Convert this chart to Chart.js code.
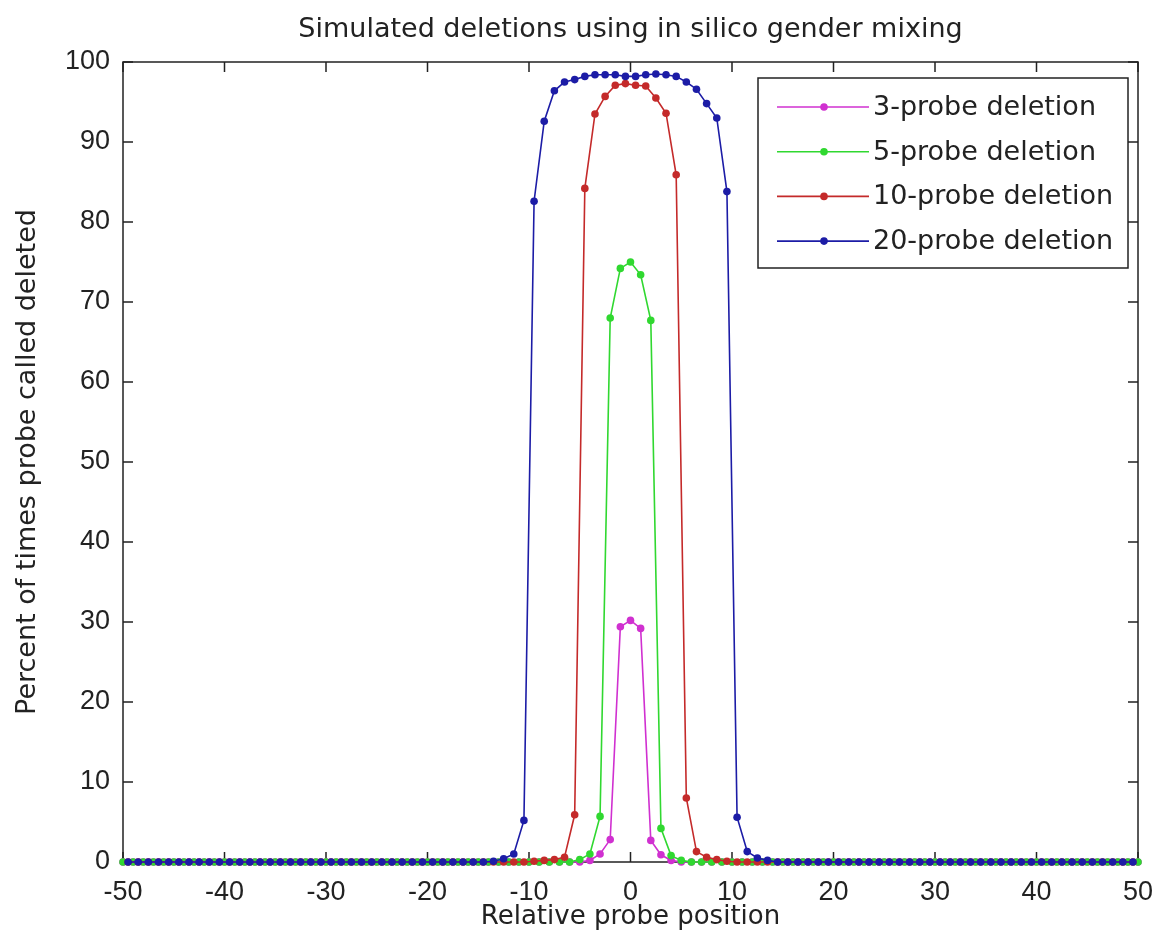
<!DOCTYPE html>
<html>
<head>
<meta charset="utf-8">
<title>Simulated deletions using in silico gender mixing</title>
<script src="https://cdn.jsdelivr.net/npm/chart.js@4.4.1/dist/chart.umd.min.js"></script>
<style>
  html, body { margin: 0; padding: 0; background: #ffffff; }
  #wrap { width: 1155px; height: 945px; }
</style>
</head>
<body>
<div id="wrap"><canvas id="chart" width="1155" height="945"></canvas></div>
<script>
// Probe positions relative to the deletion centre.
// Odd-length deletions sit on whole positions, even-length ones on half positions.
const positionsWhole = [
  -50,-49,-48,-47,-46,-45,-44,-43,-42,-41,
  -40,-39,-38,-37,-36,-35,-34,-33,-32,-31,
  -30,-29,-28,-27,-26,-25,-24,-23,-22,-21,
  -20,-19,-18,-17,-16,-15,-14,-13,-12,-11,
  -10,-9,-8,-7,-6,-5,-4,-3,-2,-1,
  0,1,2,3,4,5,6,7,8,9,
  10,11,12,13,14,15,16,17,18,19,
  20,21,22,23,24,25,26,27,28,29,
  30,31,32,33,34,35,36,37,38,39,
  40,41,42,43,44,45,46,47,48,49,
  50
];
const positionsHalf = [
  -49.5,-48.5,-47.5,-46.5,-45.5,-44.5,-43.5,-42.5,-41.5,-40.5,
  -39.5,-38.5,-37.5,-36.5,-35.5,-34.5,-33.5,-32.5,-31.5,-30.5,
  -29.5,-28.5,-27.5,-26.5,-25.5,-24.5,-23.5,-22.5,-21.5,-20.5,
  -19.5,-18.5,-17.5,-16.5,-15.5,-14.5,-13.5,-12.5,-11.5,-10.5,
  -9.5,-8.5,-7.5,-6.5,-5.5,-4.5,-3.5,-2.5,-1.5,-0.5,
  0.5,1.5,2.5,3.5,4.5,5.5,6.5,7.5,8.5,9.5,
  10.5,11.5,12.5,13.5,14.5,15.5,16.5,17.5,18.5,19.5,
  20.5,21.5,22.5,23.5,24.5,25.5,26.5,27.5,28.5,29.5,
  30.5,31.5,32.5,33.5,34.5,35.5,36.5,37.5,38.5,39.5,
  40.5,41.5,42.5,43.5,44.5,45.5,46.5,47.5,48.5,49.5
];

// Percent of times each probe was called deleted.
const deletion3 = [
  0,0,0,0,0,0,0,0,0,0,
  0,0,0,0,0,0,0,0,0,0,
  0,0,0,0,0,0,0,0,0,0,
  0,0,0,0,0,0,0,0,0,0,
  0,0,0,0,0,0,0.2,1.0,2.8,29.4,
  30.2,29.2,2.7,0.9,0.2,0,0,0,0,0,
  0,0,0,0,0,0,0,0,0,0,
  0,0,0,0,0,0,0,0,0,0,
  0,0,0,0,0,0,0,0,0,0,
  0,0,0,0,0,0,0,0,0,0,
  0
];
const deletion5 = [
  0,0,0,0,0,0,0,0,0,0,
  0,0,0,0,0,0,0,0,0,0,
  0,0,0,0,0,0,0,0,0,0,
  0,0,0,0,0,0,0,0,0,0,
  0,0,0,0,0,0.3,1.0,5.7,68.0,74.2,
  75.0,73.4,67.7,4.2,0.8,0.2,0,0,0,0,
  0,0,0,0,0,0,0,0,0,0,
  0,0,0,0,0,0,0,0,0,0,
  0,0,0,0,0,0,0,0,0,0,
  0,0,0,0,0,0,0,0,0,0,
  0
];
const deletion10 = [
  0,0,0,0,0,0,0,0,0,0,
  0,0,0,0,0,0,0,0,0,0,
  0,0,0,0,0,0,0,0,0,0,
  0,0,0,0,0,0,0,0,0,0,
  0.1,0.2,0.3,0.6,5.9,84.2,93.5,95.7,97.1,97.3,
  97.1,97.0,95.5,93.6,85.9,8.0,1.3,0.6,0.3,0.1,
  0,0,0,0,0,0,0,0,0,0,
  0,0,0,0,0,0,0,0,0,0,
  0,0,0,0,0,0,0,0,0,0,
  0,0,0,0,0,0,0,0,0,0
];
const deletion20 = [
  0,0,0,0,0,0,0,0,0,0,
  0,0,0,0,0,0,0,0,0,0,
  0,0,0,0,0,0,0,0,0,0,
  0,0,0,0,0,0,0.1,0.4,1.0,5.2,
  82.6,92.6,96.4,97.5,97.8,98.2,98.4,98.4,98.4,98.2,
  98.2,98.4,98.5,98.4,98.2,97.5,96.6,94.8,93.0,83.8,
  5.6,1.3,0.5,0.2,0,0,0,0,0,0,
  0,0,0,0,0,0,0,0,0,0,
  0,0,0,0,0,0,0,0,0,0,
  0,0,0,0,0,0,0,0,0,0
];

const seriesNames = ['3-probe deletion', '5-probe deletion', '10-probe deletion', '20-probe deletion'];
const seriesColors = ['#d030d0', '#30d830', '#c42a2a', '#1c1ca6'];

const xTickValues = [-50, -40, -30, -20, -10, 0, 10, 20, 30, 40, 50];
const yTickValues = [0, 10, 20, 30, 40, 50, 60, 70, 80, 90, 100];

const titleText = 'Simulated deletions using in silico gender mixing';
const xAxisLabel = 'Relative probe position';
const yAxisLabel = 'Percent of times probe called deleted';

const TEXT_FONT = '"DejaVu Sans", sans-serif';
const TICK_FONT = '"Liberation Sans", Arial, sans-serif';
const INK = '#222222';

function toPoints(xs, ys) {
  return xs.map((x, i) => ({ x: x, y: ys[i] }));
}

const seriesData = [
  toPoints(positionsWhole, deletion3),
  toPoints(positionsWhole, deletion5),
  toPoints(positionsHalf, deletion10),
  toPoints(positionsHalf, deletion20)
];

// Box around the plot with inward ticks on all four sides, drawn beneath the data.
const axesBox = {
  id: 'axesBox',
  beforeDatasetsDraw(chart) {
    const { ctx, chartArea: a, scales } = chart;
    const len = 10;
    ctx.save();
    ctx.strokeStyle = INK;
    ctx.lineWidth = 1.5;
    ctx.strokeRect(a.left, a.top, a.right - a.left, a.bottom - a.top);
    ctx.beginPath();
    xTickValues.forEach(v => {
      const px = scales.x.getPixelForValue(v);
      ctx.moveTo(px, a.bottom); ctx.lineTo(px, a.bottom - len);
      ctx.moveTo(px, a.top); ctx.lineTo(px, a.top + len);
    });
    yTickValues.forEach(v => {
      const py = scales.y.getPixelForValue(v);
      ctx.moveTo(a.left, py); ctx.lineTo(a.left + len, py);
      ctx.moveTo(a.right, py); ctx.lineTo(a.right - len, py);
    });
    ctx.stroke();
    ctx.restore();
  }
};

// Boxed legend in the upper right of the plot area.
const boxedLegend = {
  id: 'boxedLegend',
  afterDatasetsDraw(chart) {
    const { ctx } = chart;
    const box = { left: 758, top: 78, width: 370, height: 190 };
    const rowTop = 107, rowStep = 44.7;
    ctx.save();
    ctx.fillStyle = '#ffffff';
    ctx.fillRect(box.left, box.top, box.width, box.height);
    ctx.strokeStyle = INK;
    ctx.lineWidth = 1.5;
    ctx.strokeRect(box.left, box.top, box.width, box.height);
    ctx.font = '27px ' + TEXT_FONT;
    ctx.textBaseline = 'middle';
    ctx.textAlign = 'left';
    seriesNames.forEach((name, i) => {
      const y = rowTop + i * rowStep;
      ctx.strokeStyle = seriesColors[i];
      ctx.lineWidth = 1.6;
      ctx.beginPath();
      ctx.moveTo(777, y); ctx.lineTo(869, y);
      ctx.stroke();
      ctx.fillStyle = seriesColors[i];
      ctx.beginPath();
      ctx.arc(824, y, 3.8, 0, Math.PI * 2);
      ctx.fill();
      ctx.fillStyle = INK;
      ctx.fillText(name, 873, y + 1);
    });
    ctx.restore();
  }
};

new Chart(document.getElementById('chart'), {
  type: 'line',
  data: {
    datasets: seriesData.map((pts, i) => ({
      label: seriesNames[i],
      data: pts,
      borderColor: seriesColors[i],
      backgroundColor: seriesColors[i],
      borderWidth: 1.6,
      pointRadius: 3.8,
      pointBorderWidth: 0,
      pointStyle: 'circle',
      tension: 0,
      clip: false,
      order: seriesNames.length - i
    }))
  },
  options: {
    responsive: false,
    animation: false,
    devicePixelRatio: 1,
    layout: { autoPadding: false, padding: { left: 0, right: 17, top: 0, bottom: 0 } },
    plugins: {
      legend: { display: false },
      tooltip: { enabled: false },
      title: {
        display: true,
        fullSize: false,
        text: titleText,
        color: INK,
        font: { family: TEXT_FONT, size: 27, weight: 'normal', lineHeight: 1.2 },
        padding: { top: 14, bottom: 15.6 }
      }
    },
    scales: {
      x: {
        type: 'linear',
        min: -50,
        max: 50,
        afterBuildTicks: s => { s.ticks = xTickValues.map(v => ({ value: v })); },
        afterFit: s => { s.height = 83; s.paddingLeft = 0; s.paddingRight = 0; },
        grid: { display: false, drawTicks: false },
        border: { display: false },
        ticks: {
          padding: 14,
          maxRotation: 0,
          autoSkip: false,
          color: INK,
          font: { family: TICK_FONT, size: 27, lineHeight: 1.2 }
        },
        title: {
          display: true,
          text: xAxisLabel,
          color: INK,
          font: { family: TEXT_FONT, size: 26, lineHeight: 1.2 },
          padding: { top: 0, bottom: 12.5 }
        }
      },
      y: {
        type: 'linear',
        min: 0,
        max: 100,
        afterBuildTicks: s => { s.ticks = yTickValues.map(v => ({ value: v })); },
        afterFit: s => { s.width = 123; s.paddingTop = 0; s.paddingBottom = 0; },
        grid: { display: false, drawTicks: false },
        border: { display: false },
        ticks: {
          padding: 13,
          autoSkip: false,
          color: INK,
          font: { family: TICK_FONT, size: 27, lineHeight: 1.2 }
        },
        title: {
          display: true,
          text: yAxisLabel,
          color: INK,
          font: { family: TEXT_FONT, size: 27, lineHeight: 1.2 },
          padding: { top: 12, bottom: 0 }
        }
      }
    }
  },
  plugins: [axesBox, boxedLegend]
});
</script>
</body>
</html>
